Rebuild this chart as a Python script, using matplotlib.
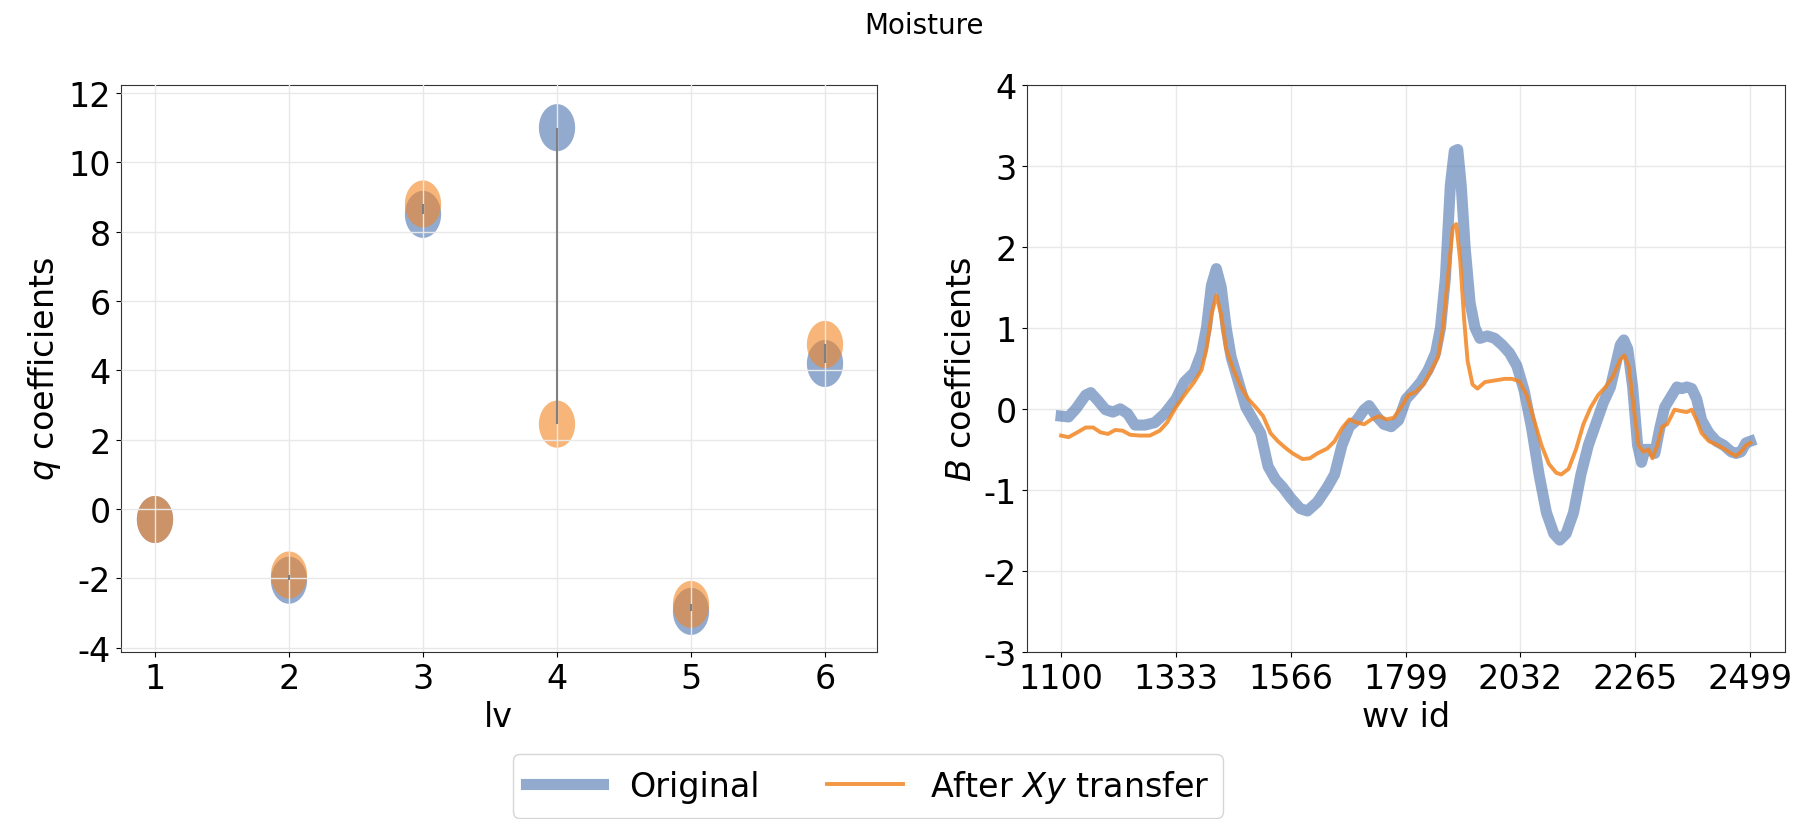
import numpy as np
import matplotlib
matplotlib.use("Agg")
import matplotlib.pyplot as plt
from matplotlib.path import Path

plt.rcParams['axes.unicode_minus'] = False

# left panel: q coefficients per latent variable
lv = [1, 2, 3, 4, 5, 6]
q_orig = [-0.3, -2.05, 8.5, 11.0, -2.95, 4.2]
q_xy = [-0.3, -1.9, 8.8, 2.45, -2.75, 4.75]

# right panel: B coefficients along wavelength id
wv_orig = [1100, 1115, 1130, 1150, 1160, 1175, 1190, 1205, 1220, 1235, 1250, 1270,
           1290, 1310, 1333, 1350, 1370, 1385, 1395, 1405, 1415, 1425, 1435, 1445,
           1460, 1475, 1490, 1505, 1520, 1535, 1550, 1566, 1585, 1600, 1620, 1640,
           1655, 1670, 1685, 1700, 1715, 1725, 1740, 1755, 1770, 1785, 1800, 1815,
           1830, 1845, 1860, 1870, 1880, 1890, 1898, 1905, 1912, 1920, 1930, 1940,
           1950, 1965, 1980, 1995, 2010, 2025, 2040, 2055, 2070, 2085, 2100, 2112,
           2125, 2140, 2155, 2170, 2185, 2200, 2215, 2225, 2235, 2242, 2250, 2260,
           2270, 2278, 2285, 2295, 2305, 2315, 2325, 2340, 2350, 2360, 2370, 2380,
           2390, 2400, 2415, 2430, 2445, 2460, 2470, 2480, 2490, 2499]
b_orig = [-0.09, -0.1, 0.0, 0.17, 0.2, 0.1, -0.01, -0.04, 0.0, -0.06, -0.2, -0.2,
          -0.17, -0.06, 0.12, 0.33, 0.45, 0.69, 1.0, 1.52, 1.73, 1.5, 1.0, 0.64,
          0.33, 0.02, -0.14, -0.3, -0.71, -0.87, -0.97, -1.1, -1.23, -1.26, -1.15, -0.97,
          -0.81, -0.45, -0.22, -0.14, -0.01, 0.04, -0.09, -0.19, -0.22, -0.14, 0.12, 0.22,
          0.33, 0.48, 0.69, 1.0, 1.62, 2.76, 3.18, 3.2, 2.76, 1.99, 1.31, 1.0,
          0.87, 0.9, 0.87, 0.79, 0.69, 0.53, 0.22, -0.24, -0.81, -1.28, -1.54, -1.62,
          -1.54, -1.28, -0.81, -0.45, -0.19, 0.07, 0.27, 0.53, 0.79, 0.85, 0.74, 0.27,
          -0.45, -0.66, -0.5, -0.5, -0.55, -0.24, 0.02, 0.17, 0.27, 0.25, 0.27, 0.25,
          0.12, -0.14, -0.3, -0.4, -0.45, -0.53, -0.55, -0.53, -0.42, -0.4]

wv_xy = [1100, 1115, 1130, 1150, 1165, 1180, 1195, 1210, 1225, 1240, 1260, 1280,
         1300, 1315, 1333, 1350, 1370, 1385, 1395, 1405, 1415, 1425, 1435, 1450,
         1465, 1480, 1495, 1510, 1525, 1540, 1555, 1570, 1590, 1605, 1620, 1640,
         1655, 1670, 1685, 1700, 1715, 1730, 1745, 1760, 1775, 1790, 1805, 1820,
         1835, 1850, 1865, 1875, 1885, 1895, 1902, 1910, 1918, 1925, 1935, 1945,
         1960, 1980, 2000, 2015, 2030, 2045, 2060, 2075, 2090, 2105, 2115, 2130,
         2145, 2160, 2175, 2190, 2205, 2220, 2235, 2243, 2252, 2262, 2272, 2282,
         2292, 2300, 2310, 2320, 2330, 2345, 2360, 2370, 2380, 2390, 2400, 2415,
         2430, 2445, 2460, 2470, 2480, 2490, 2499]
b_xy = [-0.33, -0.35, -0.3, -0.23, -0.23, -0.29, -0.31, -0.26, -0.27, -0.32, -0.33, -0.33,
        -0.27, -0.17, 0.02, 0.17, 0.33, 0.48, 0.74, 1.16, 1.4, 1.16, 0.74, 0.48,
        0.27, 0.12, 0.02, -0.09, -0.3, -0.4, -0.48, -0.55, -0.62, -0.61, -0.55, -0.49,
        -0.4, -0.24, -0.13, -0.17, -0.19, -0.13, -0.09, -0.13, -0.11, 0.02, 0.17, 0.21,
        0.3, 0.46, 0.64, 1.0, 1.62, 2.24, 2.28, 1.83, 1.1, 0.59, 0.3, 0.25,
        0.33, 0.35, 0.37, 0.37, 0.34, 0.17, -0.14, -0.45, -0.68, -0.79, -0.81, -0.74,
        -0.5, -0.19, 0.02, 0.17, 0.27, 0.4, 0.61, 0.66, 0.53, 0.02, -0.45, -0.53,
        -0.5, -0.61, -0.45, -0.22, -0.19, -0.01, -0.03, -0.04, -0.01, -0.14, -0.3, -0.4,
        -0.44, -0.49, -0.55, -0.58, -0.53, -0.45, -0.42]

wv_ticks = [1100, 1333, 1566, 1799, 2032, 2265, 2499]

blue = '#4C72B0'
orange = '#F28522'
fs = 24

# markers in the reference are squashed sideways, so use an ellipse path
t = np.linspace(0, 2 * np.pi, 60)
ellipse = Path(np.column_stack([0.77 * np.cos(t), np.sin(t)]), closed=True)

fig = plt.figure(figsize=(18.04, 8.2), dpi=100)
ax1 = fig.add_axes([0.0669, 0.2037, 0.4191, 0.6918])
ax2 = fig.add_axes([0.5691, 0.2037, 0.4203, 0.6918])

# left: scatter of coefficients, joined by grey lines
ax1.vlines(lv, q_orig, q_xy, color='grey', lw=1.5, zorder=3)
ax1.scatter(lv, q_orig, s=1150, marker=ellipse, color=blue, alpha=0.6,
            edgecolors='none', zorder=2)
ax1.scatter(lv, q_xy, s=1150, marker=ellipse, color=orange, alpha=0.6,
            edgecolors='none', zorder=2)
ax1.set_xticks(lv)
ax1.set_yticks(np.arange(-4, 13, 2))
ax1.set_xlim(0.744, 6.386)
ax1.set_ylim(-4.12, 12.24)
ax1.grid(True, color='#e8e8e8', lw=1)
ax1.set_axisbelow(False)
ax1.set_xlabel('lv', fontsize=fs)
ax1.set_ylabel('$q$ coefficients', fontsize=fs)

# right: regression vector
ax2.plot(wv_orig, b_orig, color=blue, alpha=0.6, lw=8, label='Original')
ax2.plot(wv_xy, b_xy, color=orange, alpha=0.85, lw=2.8, label='After $Xy$ transfer')
ax2.set_xticks(wv_ticks)
ax2.set_ylim(-3, 4)
ax2.set_yticks(range(-3, 5))
ax2.grid(True, color='#e8e8e8', lw=1)
ax2.set_axisbelow(True)
ax2.set_xlabel('wv id', fontsize=fs)
ax2.set_ylabel('$B$ coefficients', fontsize=fs)

for ax in (ax1, ax2):
    ax.tick_params(labelsize=fs)
    for sp in ax.spines.values():
        sp.set_color('#333333')

fig.suptitle('Moisture', fontsize=20, x=0.512, y=0.985)
h, l = ax2.get_legend_handles_labels()
fig.legend(h, l, loc='upper center', bbox_to_anchor=(0.481, 0.099), ncol=2,
           fontsize=fs, frameon=True, handlelength=2.3, columnspacing=2.0)

fig.savefig('out.png', dpi=100)
